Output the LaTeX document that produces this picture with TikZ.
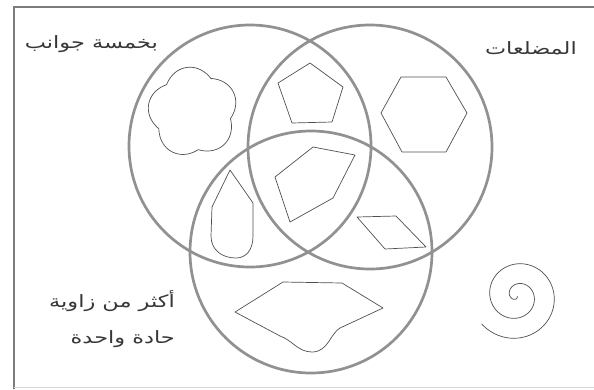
\documentclass[tikz,border=0pt]{standalone}
\usepackage{fontspec}
\newfontfamily\arabicfont[Script=Arabic,FakeStretch=1.32]{DejaVu Sans}
\TeXXeTstate=1
\definecolor{ringgray}{RGB}{145,145,145}
\definecolor{shapegray}{RGB}{80,80,80}
\definecolor{textgray}{RGB}{55,55,55}
\definecolor{framegray}{RGB}{125,125,125}
\definecolor{lightframe}{RGB}{215,215,215}
\begin{document}
\begin{tikzpicture}[x=1pt,y=-1pt,
  ring/.style={draw=ringgray,line width=2.7pt},
  figshape/.style={draw=shapegray,line width=0.7pt,line join=round},
  label/.style={text=textgray,font=\arabicfont\fontsize{17}{22}\selectfont,inner sep=0pt}]
\useasboundingbox (0,0) rectangle (594,389);
\fill[white] (0,0) rectangle (594,389);
% frame
\draw[framegray,line width=1.6pt] (594,7) -- (14,7) -- (14,389);
\draw[lightframe,line width=1pt] (14,387) -- (594,387);
% circle centres
\coordinate (cA) at (250,146);
\coordinate (cB) at (370,147);
\coordinate (cC) at (311,252);
\draw[ring] (cA) circle[radius=121];
\draw[ring] (cB) circle[radius=122];
\draw[ring] (cC) circle[radius=121];
% labels
\node[label,anchor=east] (lfive) at (158,44) {\beginR بخمسة جوانب\endR};
\node[label,anchor=east] (lpoly) at (577,48) {\beginR المضلعات\endR};
\node[label,anchor=east] (lacutea) at (175,301) {\beginR أكثر من زاوية\endR};
\node[label,anchor=east] (lacuteb) at (175,339) {\beginR حادة واحدة\endR};
% flower
\draw[figshape] plot[domain=0:360,samples=181,smooth] ({193+(38+7*abs(sin(2.5*(\x-10))))*cos(\x)},{112+(38+7*abs(sin(2.5*(\x-10))))*sin(\x)}) -- cycle;
% pentagon
\draw[figshape] (310,63) -- (343,87) -- (332,122) -- (292,123) -- (278,83) -- cycle;
% hexagon
\draw[figshape] (401,77) -- (446,77) -- (467,113) -- (446,152) -- (402,152) -- (381,113) -- cycle;
% centre pentagon
\draw[figshape] (313,147) -- (355,155) -- (333,198) -- (290,222) -- (275,177) -- cycle;
% teardrop
\draw[figshape] (230,170) -- (253,203) -- (253,236) .. controls (253,250) and (246,258) .. (236,258) .. controls (222,258) and (211,250) .. (211,236) -- (212,207) -- cycle;
% rhombus
\draw[figshape] (357,217) -- (396,216) -- (426,247) -- (385,249) -- cycle;
% bottom shape
\draw[figshape] (235,312) -- (283,282) -- (342,283) -- (383,308) -- (340,328) .. controls (330,334) and (328,352) .. (312,352) .. controls (298,352) and (292,340) .. (280,336) -- cycle;
% spiral
\draw[figshape] plot[domain=4:810,samples=300,smooth] ({517+0.0556*\x*cos(\x-668)},{296+0.0556*\x*sin(\x-668)});
\end{tikzpicture}
\end{document}
